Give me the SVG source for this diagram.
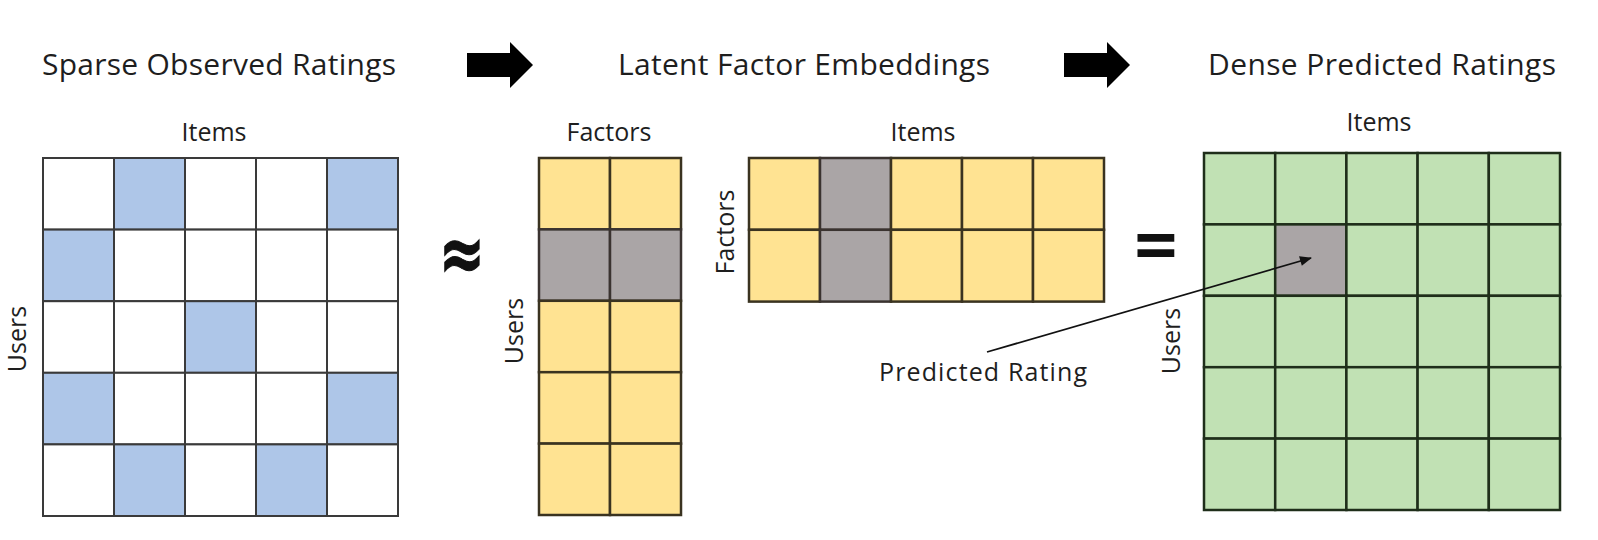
<svg xmlns="http://www.w3.org/2000/svg" width="1598" height="540" viewBox="0 0 1598 540">
<defs>
<style>
.t{font-family:"Open Sans",Lato,"Liberation Sans",sans-serif;fill:#1e1e1e}
.title{font-size:30px}
.lab{font-size:25px}
.sym{font-family:"DejaVu Sans","Liberation Sans",sans-serif;font-weight:bold;fill:#111}
.w{fill:#ffffff;stroke:#3a3a3a;stroke-width:2}
.b{fill:#aec6e8;stroke:#3a3a3a;stroke-width:2}
.y{fill:#ffe392;stroke:#3a3320;stroke-width:2.5}
.g{fill:#aaa5a6;stroke:#3a3330;stroke-width:2.5}
.gn{fill:#c1e1b4;stroke:#1f2e1a;stroke-width:2.5}
.gg{fill:#aaa5a6;stroke:#1f2e1a;stroke-width:2.5}
.blk{fill:#000}
</style>
<marker id="ah2" viewBox="0 0 12 10" refX="11" refY="5" markerWidth="13" markerHeight="10" markerUnits="userSpaceOnUse" orient="auto">
<path d="M0,0 L12,5 L0,10 z" fill="#111"/>
</marker>
</defs>
<rect width="1598" height="540" fill="#ffffff"/>

<g id="titles">
<text class="t title" x="219" y="75" text-anchor="middle" textLength="354">Sparse Observed Ratings</text>
<text class="t title" x="804" y="75" text-anchor="middle" textLength="372">Latent Factor Embeddings</text>
<text class="t title" x="1382" y="75" text-anchor="middle" textLength="348">Dense Predicted Ratings</text>
</g>

<g id="sparse-matrix">
<text class="t lab" x="214" y="141" text-anchor="middle">Items</text>
<text class="t lab" transform="translate(26,339) rotate(-90)" text-anchor="middle">Users</text>
<rect class="w" x="43" y="158" width="71" height="71.6"/>
<rect class="b" x="114" y="158" width="71" height="71.6"/>
<rect class="w" x="185" y="158" width="71" height="71.6"/>
<rect class="w" x="256" y="158" width="71" height="71.6"/>
<rect class="b" x="327" y="158" width="71" height="71.6"/>
<rect class="b" x="43" y="229.6" width="71" height="71.6"/>
<rect class="w" x="114" y="229.6" width="71" height="71.6"/>
<rect class="w" x="185" y="229.6" width="71" height="71.6"/>
<rect class="w" x="256" y="229.6" width="71" height="71.6"/>
<rect class="w" x="327" y="229.6" width="71" height="71.6"/>
<rect class="w" x="43" y="301.2" width="71" height="71.6"/>
<rect class="w" x="114" y="301.2" width="71" height="71.6"/>
<rect class="b" x="185" y="301.2" width="71" height="71.6"/>
<rect class="w" x="256" y="301.2" width="71" height="71.6"/>
<rect class="w" x="327" y="301.2" width="71" height="71.6"/>
<rect class="b" x="43" y="372.8" width="71" height="71.6"/>
<rect class="w" x="114" y="372.8" width="71" height="71.6"/>
<rect class="w" x="185" y="372.8" width="71" height="71.6"/>
<rect class="w" x="256" y="372.8" width="71" height="71.6"/>
<rect class="b" x="327" y="372.8" width="71" height="71.6"/>
<rect class="w" x="43" y="444.4" width="71" height="71.6"/>
<rect class="b" x="114" y="444.4" width="71" height="71.6"/>
<rect class="w" x="185" y="444.4" width="71" height="71.6"/>
<rect class="b" x="256" y="444.4" width="71" height="71.6"/>
<rect class="w" x="327" y="444.4" width="71" height="71.6"/>
</g>

<g id="approx-sign">
<text class="sym" x="462" y="273" font-size="58" text-anchor="middle" stroke="#111" stroke-width="0.8" transform="translate(462,254) scale(0.95,1.35) translate(-462,-254)">≈</text>
</g>

<g id="user-factors">
<text class="t lab" x="609" y="141" text-anchor="middle">Factors</text>
<text class="t lab" transform="translate(523,331) rotate(-90)" text-anchor="middle">Users</text>
<rect class="y" x="539" y="158" width="71" height="71.4"/>
<rect class="y" x="610" y="158" width="71" height="71.4"/>
<rect class="g" x="539" y="229.4" width="71" height="71.4"/>
<rect class="g" x="610" y="229.4" width="71" height="71.4"/>
<rect class="y" x="539" y="300.8" width="71" height="71.4"/>
<rect class="y" x="610" y="300.8" width="71" height="71.4"/>
<rect class="y" x="539" y="372.2" width="71" height="71.4"/>
<rect class="y" x="610" y="372.2" width="71" height="71.4"/>
<rect class="y" x="539" y="443.6" width="71" height="71.4"/>
<rect class="y" x="610" y="443.6" width="71" height="71.4"/>
</g>

<g id="item-factors">
<text class="t lab" x="923" y="141" text-anchor="middle">Items</text>
<text class="t lab" transform="translate(734,232) rotate(-90)" text-anchor="middle">Factors</text>
<rect class="y" x="749" y="158" width="71" height="71.8"/>
<rect class="g" x="820" y="158" width="71" height="71.8"/>
<rect class="y" x="891" y="158" width="71" height="71.8"/>
<rect class="y" x="962" y="158" width="71" height="71.8"/>
<rect class="y" x="1033" y="158" width="71" height="71.8"/>
<rect class="y" x="749" y="229.8" width="71" height="71.8"/>
<rect class="g" x="820" y="229.8" width="71" height="71.8"/>
<rect class="y" x="891" y="229.8" width="71" height="71.8"/>
<rect class="y" x="962" y="229.8" width="71" height="71.8"/>
<rect class="y" x="1033" y="229.8" width="71" height="71.8"/>
</g>

<g id="equals-sign">
<text class="sym" x="1156" y="262" font-size="56" text-anchor="middle" transform="translate(1156,238) scale(1.05,1.2) translate(-1156,-238)">=</text>
</g>

<g id="dense-matrix">
<text class="t lab" x="1379" y="131" text-anchor="middle">Items</text>
<text class="t lab" transform="translate(1180,341) rotate(-90)" text-anchor="middle">Users</text>
<rect class="gn" x="1204" y="153" width="71.2" height="71.4"/>
<rect class="gn" x="1275.2" y="153" width="71.2" height="71.4"/>
<rect class="gn" x="1346.4" y="153" width="71.2" height="71.4"/>
<rect class="gn" x="1417.6" y="153" width="71.2" height="71.4"/>
<rect class="gn" x="1488.8" y="153" width="71.2" height="71.4"/>
<rect class="gn" x="1204" y="224.4" width="71.2" height="71.4"/>
<rect class="gg" x="1275.2" y="224.4" width="71.2" height="71.4"/>
<rect class="gn" x="1346.4" y="224.4" width="71.2" height="71.4"/>
<rect class="gn" x="1417.6" y="224.4" width="71.2" height="71.4"/>
<rect class="gn" x="1488.8" y="224.4" width="71.2" height="71.4"/>
<rect class="gn" x="1204" y="295.8" width="71.2" height="71.4"/>
<rect class="gn" x="1275.2" y="295.8" width="71.2" height="71.4"/>
<rect class="gn" x="1346.4" y="295.8" width="71.2" height="71.4"/>
<rect class="gn" x="1417.6" y="295.8" width="71.2" height="71.4"/>
<rect class="gn" x="1488.8" y="295.8" width="71.2" height="71.4"/>
<rect class="gn" x="1204" y="367.2" width="71.2" height="71.4"/>
<rect class="gn" x="1275.2" y="367.2" width="71.2" height="71.4"/>
<rect class="gn" x="1346.4" y="367.2" width="71.2" height="71.4"/>
<rect class="gn" x="1417.6" y="367.2" width="71.2" height="71.4"/>
<rect class="gn" x="1488.8" y="367.2" width="71.2" height="71.4"/>
<rect class="gn" x="1204" y="438.6" width="71.2" height="71.4"/>
<rect class="gn" x="1275.2" y="438.6" width="71.2" height="71.4"/>
<rect class="gn" x="1346.4" y="438.6" width="71.2" height="71.4"/>
<rect class="gn" x="1417.6" y="438.6" width="71.2" height="71.4"/>
<rect class="gn" x="1488.8" y="438.6" width="71.2" height="71.4"/>
</g>

<g id="predicted-label">
<text class="t lab" x="983" y="381" text-anchor="middle" textLength="208">Predicted Rating</text>
</g>

<g id="connectors">
<polygon class="blk" points="467,53 510,53 510,42 533,65 510,88 510,77 467,77"/>
<polygon class="blk" points="1064,53 1107,53 1107,42 1130,65 1107,88 1107,77 1064,77"/>
<line x1="987" y1="352" x2="1311" y2="258" stroke="#111" stroke-width="1.8" marker-end="url(#ah2)"/>
</g>
</svg>
